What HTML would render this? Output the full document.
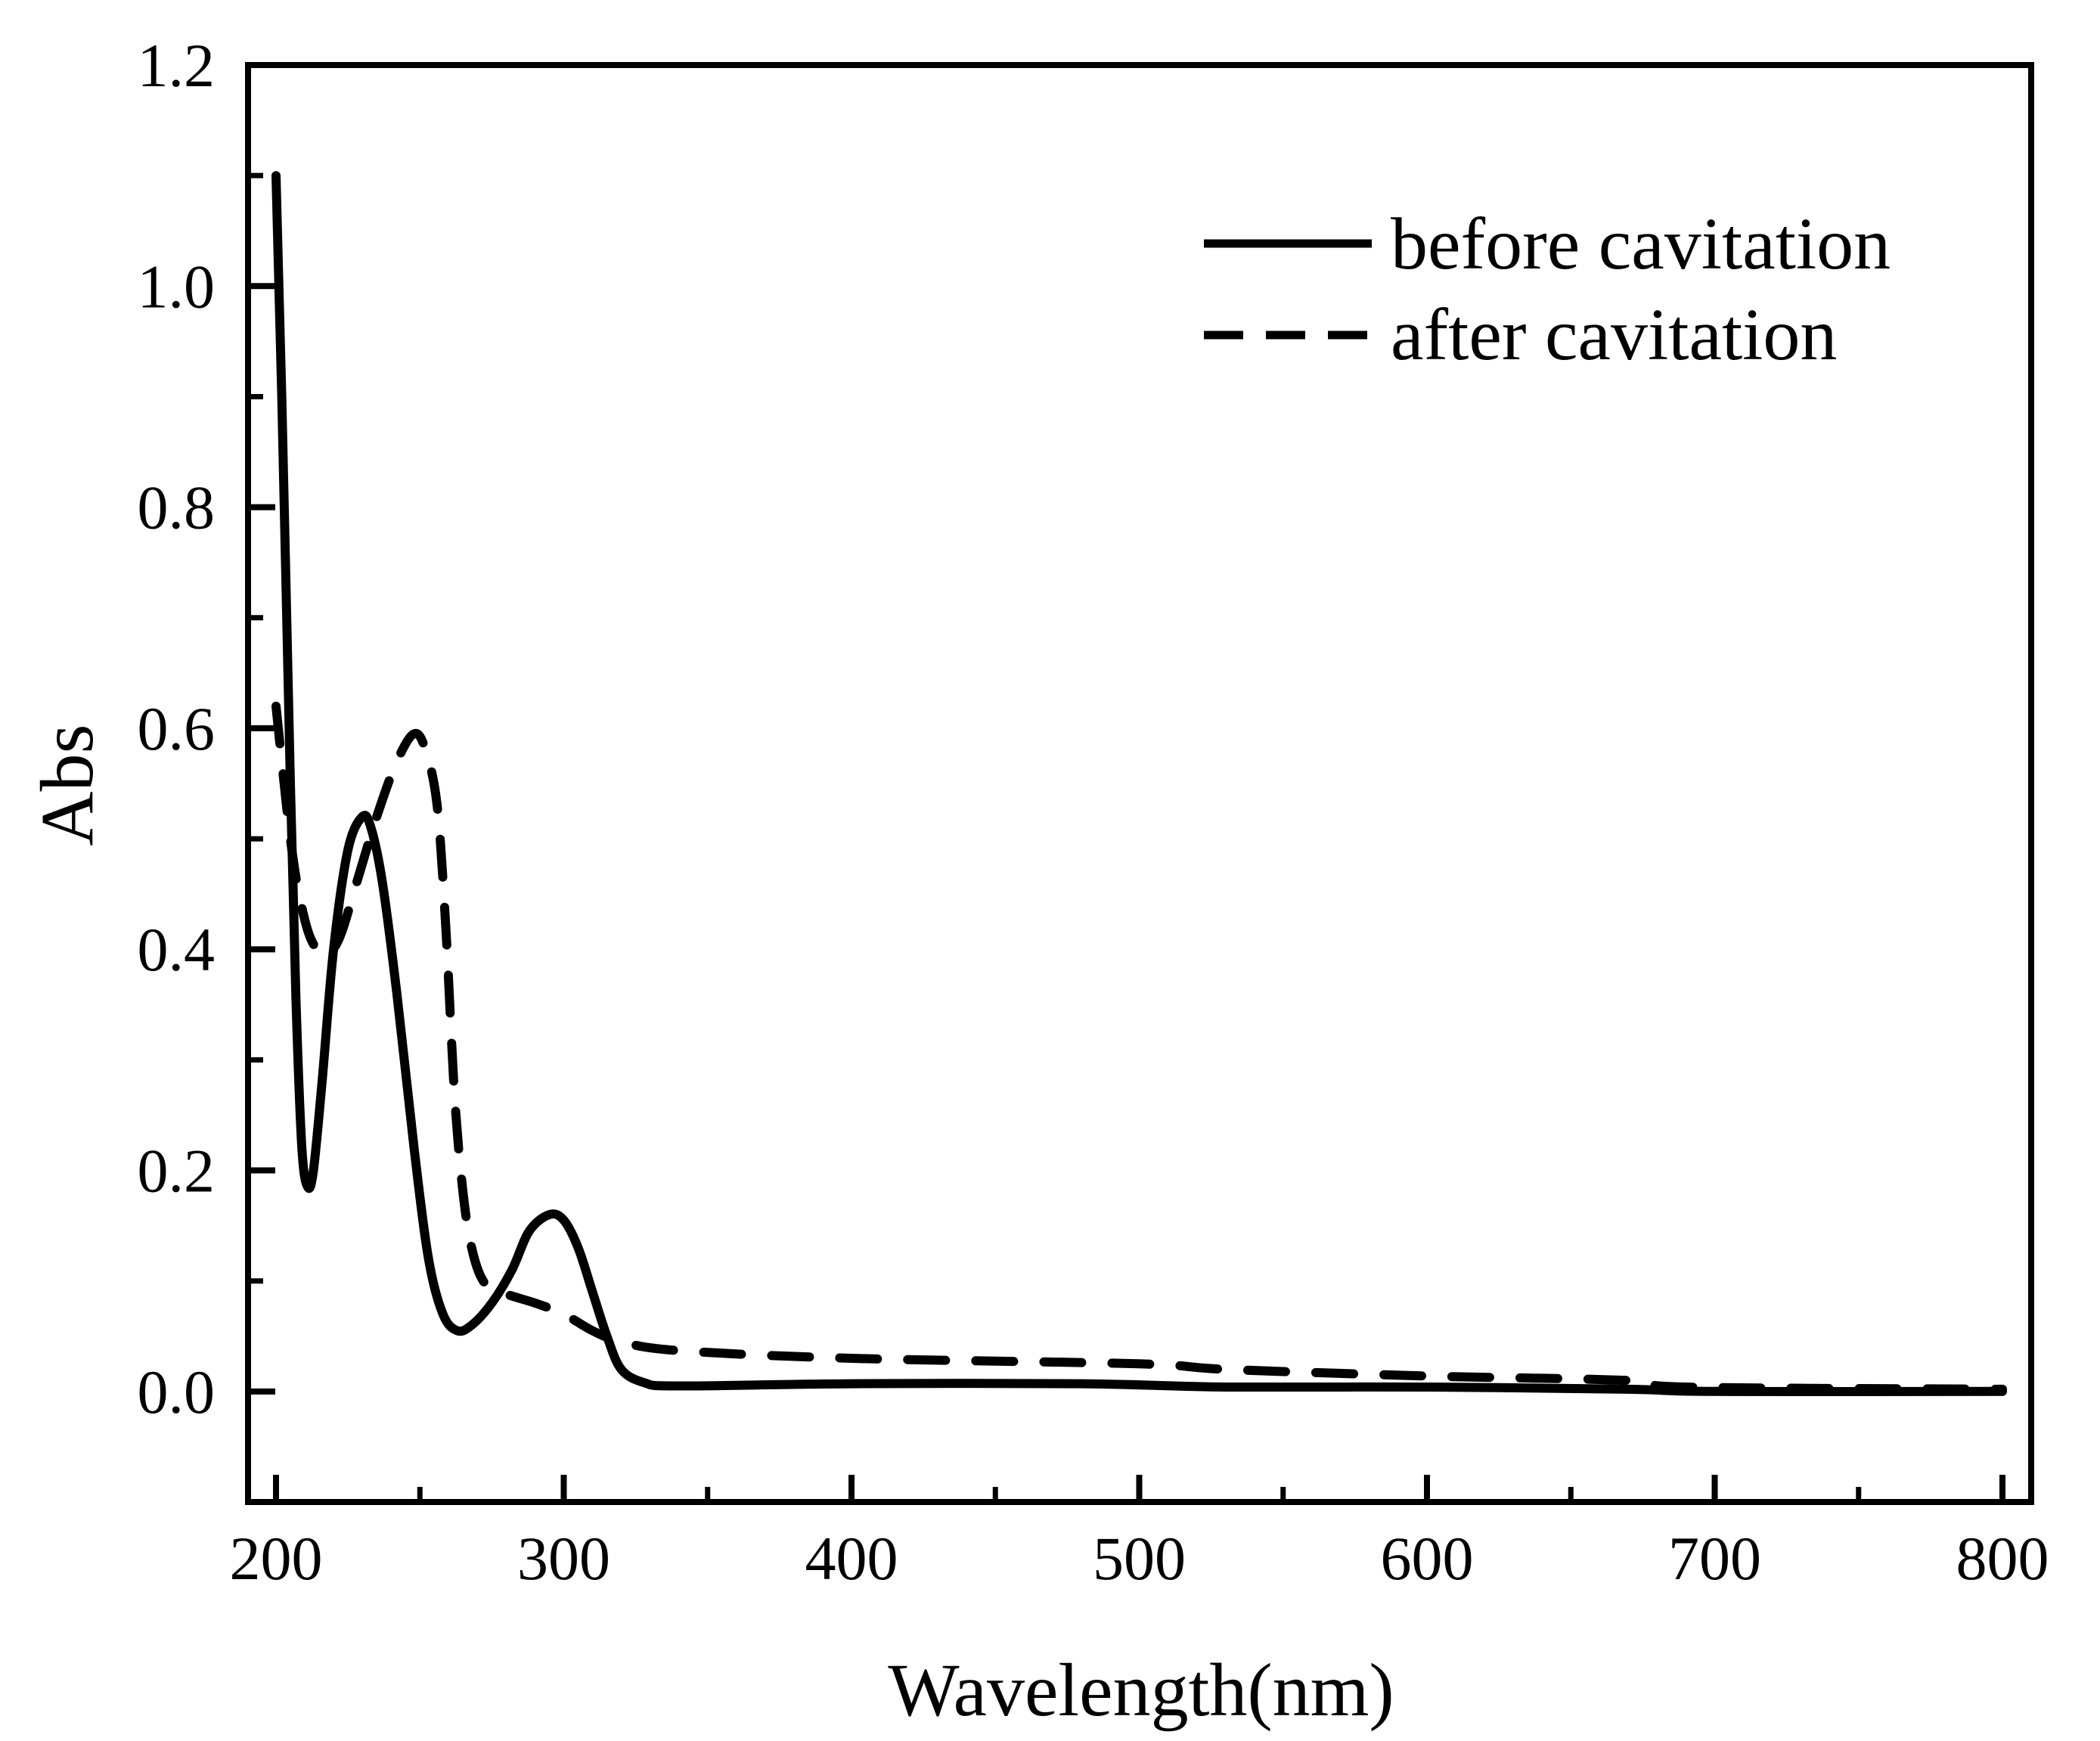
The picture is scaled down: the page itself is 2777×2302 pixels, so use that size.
<!DOCTYPE html>
<html><head><meta charset="utf-8"><style>
html,body{margin:0;padding:0;background:#fff;}
svg{display:block;}
text{font-family:"Liberation Serif","Times New Roman",serif;fill:#000;}
</style></head><body>
<svg id="chart" width="2777" height="2302" viewBox="0 0 2777 2302" xmlns="http://www.w3.org/2000/svg">
<g id="axes"></g>
<g id="series"></g>
<rect x="328" y="86" width="2358" height="1900" fill="none" stroke="#000" stroke-width="8"/>
<text x="0" y="0" font-size="100" text-anchor="middle" transform="translate(122,1038) rotate(-90)">Abs</text>
<text x="1509" y="2268" font-size="100" text-anchor="middle">Wavelength(nm)</text>
<g>
<line x1="1592" y1="322" x2="1814" y2="322" stroke="#000" stroke-width="11"/>
<text x="1839" y="355" font-size="98">before cavitation</text>
<line x1="1592" y1="443" x2="1814" y2="443" stroke="#000" stroke-width="11" stroke-dasharray="52,30"/>
<text x="1839" y="475" font-size="98">after cavitation</text>
</g>
</svg>
<script>
const xTicks = [200,300,400,500,600,700,800];
const yTicks = [0.0,0.2,0.4,0.6,0.8,1.0,1.2];
const yTickLabels = ["0.0","0.2","0.4","0.6","0.8","1.0","1.2"];
const beforeX = [200,202,205,207,209,211,213,216,220,225,230,233,237,242,248,253,258,263,268,275,282,288,295,300,305,310,315,320,328,340,400,480,530,600,670,700,800];
const beforeY = [1.10,0.90,0.55,0.35,0.22,0.185,0.20,0.28,0.40,0.49,0.52,0.51,0.46,0.36,0.22,0.12,0.07,0.055,0.06,0.08,0.11,0.145,0.16,0.155,0.13,0.09,0.05,0.02,0.008,0.005,0.007,0.007,0.004,0.004,0.002,0.0,0.0];
const afterX = [200,202,205,208,212,217,222,228,235,242,248,252,256,259,262,265,268,272,278,290,300,310,320,340,400,500,530,600,670,690,800];
const afterY = [0.62,0.57,0.50,0.45,0.41,0.395,0.41,0.46,0.52,0.57,0.595,0.58,0.53,0.42,0.27,0.18,0.13,0.10,0.09,0.08,0.07,0.055,0.045,0.037,0.03,0.025,0.02,0.014,0.01,0.004,0.002];
const NS='http://www.w3.org/2000/svg';
function xs(v){return 365+(v-200)*(2648-365)/600;}
function ys(v){return 1986-(v+0.1)*1900/1.3;}
const axes=document.getElementById('axes');
const series=document.getElementById('series');
function mk(tag,attrs,parent){const e=document.createElementNS(NS,tag);for(const k in attrs)e.setAttribute(k,attrs[k]);parent.appendChild(e);return e;}
for(let i=0;i<xTicks.length;i++){
  const x=xs(xTicks[i]);
  const t=mk('line',{x1:x,x2:x,y1:1986,y2:1950,stroke:'#000','stroke-width':8},axes);
  
  
  const l=mk('text',{x:x,y:2088,'font-size':82,'text-anchor':'middle'},axes);
  l.textContent=xTicks[i];
  
  
  if(i<xTicks.length-1){
    const xm=xs(xTicks[i]+50);
    const m=mk('line',{x1:xm,x2:xm,y1:1986,y2:1966,stroke:'#000','stroke-width':7},axes);
    
    
  }
}
for(let i=0;i<yTicks.length;i++){
  const y=ys(yTicks[i]);
  const t=mk('line',{x1:328,x2:364,y1:y,y2:y,stroke:'#000','stroke-width':8},axes);
  
  
  const l=mk('text',{x:284,y:y+28,'font-size':82,'text-anchor':'end'},axes);
  l.textContent=yTickLabels[i];
  
  
  const ym=ys(yTicks[i]-0.1);
  const m=mk('line',{x1:328,x2:348,y1:ym,y2:ym,stroke:'#000','stroke-width':7},axes);
  
  
}
function pathD(X,Y){
  const p=X.map((x,i)=>[xs(x),ys(Y[i])]);
  let d='M'+p[0][0].toFixed(1)+','+p[0][1].toFixed(1);
  for(let i=0;i<p.length-1;i++){
    const p0=p[Math.max(i-1,0)],p1=p[i],p2=p[i+1],p3=p[Math.min(i+2,p.length-1)];
    const c1=[p1[0]+(p2[0]-p0[0])/6,p1[1]+(p2[1]-p0[1])/6];
    const c2=[p2[0]-(p3[0]-p1[0])/6,p2[1]-(p3[1]-p1[1])/6];
    d+=' C'+c1.map(v=>v.toFixed(1)).join(',')+' '+c2.map(v=>v.toFixed(1)).join(',')+' '+p2.map(v=>v.toFixed(1)).join(',');
  }
  return d;
}
const a=mk('path',{d:pathD(afterX,afterY),fill:'none',stroke:'#000','stroke-width':12,'stroke-dasharray':'50,40','stroke-linecap':'round'},series);


const b=mk('path',{d:pathD(beforeX,beforeY),fill:'none',stroke:'#000','stroke-width':12,'stroke-linejoin':'round','stroke-linecap':'round'},series);


</script>
</body></html>
